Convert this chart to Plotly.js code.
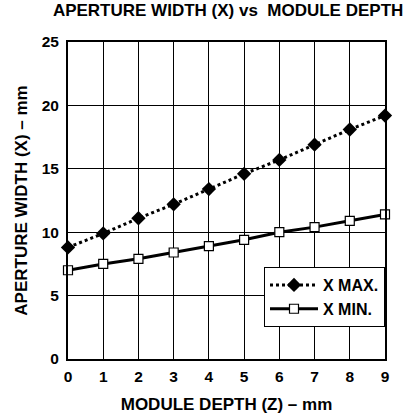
<!DOCTYPE html>
<html><head><meta charset="utf-8">
<script src="https://cdn.plot.ly/plotly-3.0.1.min.js"></script>
<style>html,body{margin:0;padding:0;background:#fff}#c{width:411px;height:420px}</style>
</head><body><div id="c"></div>
<script>
const depth = [0,1,2,3,4,5,6,7,8,9];
const xMax = [8.8,9.9,11.1,12.2,13.4,14.6,15.7,16.9,18.1,19.2];
const xMin = [7.0,7.5,7.9,8.4,8.9,9.4,10.0,10.4,10.9,11.4];
const seriesNames = ['X MAX.','X MIN.'];
const F = 'Liberation Sans, Arial, sans-serif';
const traces = [
 {x: depth, y: xMax, name: seriesNames[0], mode: 'lines+markers', cliponaxis:false,
  line:{color:'#000', width:3, dash:'dot'},
  marker:{symbol:'diamond', size:11, color:'#000'}},
 {x: depth, y: xMin, name: seriesNames[1], mode: 'lines+markers', cliponaxis:false,
  line:{color:'#000', width:3},
  marker:{symbol:'square', size:9, color:'#fff', line:{color:'#000', width:1.2}}}
];
const layout = {
 width:411, height:420,
 margin:{l:68, r:26, t:42, b:61},
 paper_bgcolor:'#fff', plot_bgcolor:'#fff',
 font:{family:F, color:'#000', size:15, weight:'bold'},
 title:{text:'APERTURE WIDTH (X) vs  MODULE DEPTH', x:0.555, xanchor:'center', y:0.99, yanchor:'top',
   font:{family:F, size:17, weight:'bold', color:'#000'}},
 xaxis:{range:[0,9], dtick:1, tick0:0, showgrid:true, gridcolor:'#000', gridwidth:1,
   showline:true, linecolor:'#000', linewidth:2, mirror:true, zeroline:false,
   ticks:'', ticklabelstandoff:2,
   tickfont:{family:F, size:15.5, weight:'bold'},
   title:{text:'MODULE DEPTH (Z) \u2013 mm', standoff:15, font:{family:F, size:17, weight:'bold'}}},
 yaxis:{range:[0,25], dtick:5, tick0:0, showgrid:true, gridcolor:'#000', gridwidth:1,
   showline:true, linecolor:'#000', linewidth:2, mirror:true, zeroline:false,
   ticks:'', ticklabelstandoff:4,
   tickfont:{family:F, size:15.5, weight:'bold'},
   title:{text:'APERTURE WIDTH (X) \u2013 mm', standoff:10, font:{family:F, size:17, weight:'bold'}}},
 legend:{x:1, xanchor:'right', y:0.29, yanchor:'top', bgcolor:'#fff', bordercolor:'#000', borderwidth:1,
   font:{family:F, size:16, weight:'bold'}, tracegroupgap:0, itemwidth:48},
 showlegend:true
};
Plotly.newPlot('c', traces, layout, {staticPlot:true, displayModeBar:false});
</script></body></html>
